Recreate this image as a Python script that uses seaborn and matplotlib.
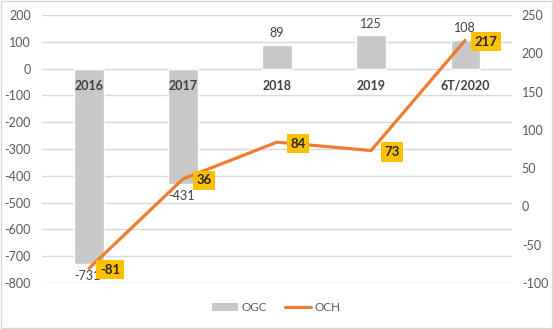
import matplotlib
matplotlib.use("Agg")
import matplotlib.pyplot as plt
import seaborn as sns
import numpy as np
import pandas as pd
from matplotlib.patches import Patch
from matplotlib.lines import Line2D

categories = ["2016", "2017", "2018", "2019", "6T/2020"]
ogc = [-731, -431, 89, 125, 108]
och = [-81, 36, 84, 73, 217]
left_ticks = [200, 100, 0, -100, -200, -300, -400, -500, -600, -700, -800]
right_ticks = [250, 200, 150, 100, 50, 0, -50, -100]

sns.set_theme(style="white")
plt.rcParams['font.family'] = ['Lato', 'DejaVu Sans']
plt.rcParams['axes.unicode_minus'] = False

fig = plt.figure(figsize=(5.53, 3.29), dpi=100)
ax = fig.add_axes([0.076, 0.140, 0.850, 0.814])
df = pd.DataFrame({"cat": categories, "OGC": ogc})
sns.barplot(data=df, x="cat", y="OGC", color="#C8C8C8", width=0.31, ax=ax,
            saturation=1, zorder=2)
ax.set_ylim(-800, 200)
ax.set_yticks(left_ticks)
ax.set_xlim(-0.5, 4.5)
ax.set_xlabel("")
ax.set_ylabel("")
ax.set_xticks([])
ax.grid(axis="y", color="#D9D9D9", linewidth=1, zorder=0)
ax.set_axisbelow(True)
for s in ax.spines.values():
    s.set_visible(False)
ax.tick_params(axis="y", length=0, labelsize=9, labelcolor="#595959", pad=8)

# category labels at zero line
for i, c in enumerate(categories):
    ax.annotate(c, (i, 0), xytext=(0, -8), textcoords="offset points",
                ha="center", va="top", fontsize=9, fontweight="bold",
                color="#404040", zorder=5)
# bar value labels
for i, v in enumerate(ogc):
    if v >= 0:
        ax.annotate(str(v), (i, v), xytext=(0, 4), textcoords="offset points",
                    ha="center", va="bottom", fontsize=9, color="#404040")
    else:
        ax.annotate(str(v), (i, v), xytext=(-1, -4), textcoords="offset points",
                    ha="center", va="top", fontsize=9, color="#404040")

ax2 = ax.twinx()
sns.lineplot(x=np.arange(len(categories)), y=och, color="#ED7D31", linewidth=2.3,
             ax=ax2, zorder=3)
ax2.set_ylim(-100, 250)
ax2.set_yticks(right_ticks)
ax2.set_xlim(-0.5, 4.5)
for s in ax2.spines.values():
    s.set_visible(False)
ax2.tick_params(axis="y", length=0, labelsize=9, labelcolor="#595959", pad=7)
ax2.grid(False)
for i, v in enumerate(och):
    ax2.annotate(str(v), (i, v), xytext=(15, -1), textcoords="offset points",
                 ha="center", va="center", fontsize=9.5, fontweight="bold",
                 color="#262626",
                 bbox=dict(boxstyle="square,pad=0.28", fc="#FFC000", ec="none"))

handles = [Patch(facecolor="#C8C8C8", edgecolor="none", label="OGC"),
           Line2D([0], [0], color="#ED7D31", linewidth=2.3, label="OCH")]
fig.legend(handles=handles, loc="center", bbox_to_anchor=(0.5, 0.065), ncol=2,
           frameon=False, fontsize=8.5, handlelength=2.2, handletextpad=0.3,
           columnspacing=1.5, labelcolor="#595959")

border = plt.Rectangle((0.002, 0.003), 0.996, 0.994, transform=fig.transFigure,
                       fill=False, edgecolor="#D9D9D9", linewidth=1)
fig.add_artist(border)
fig.savefig("out.png", dpi=100)
